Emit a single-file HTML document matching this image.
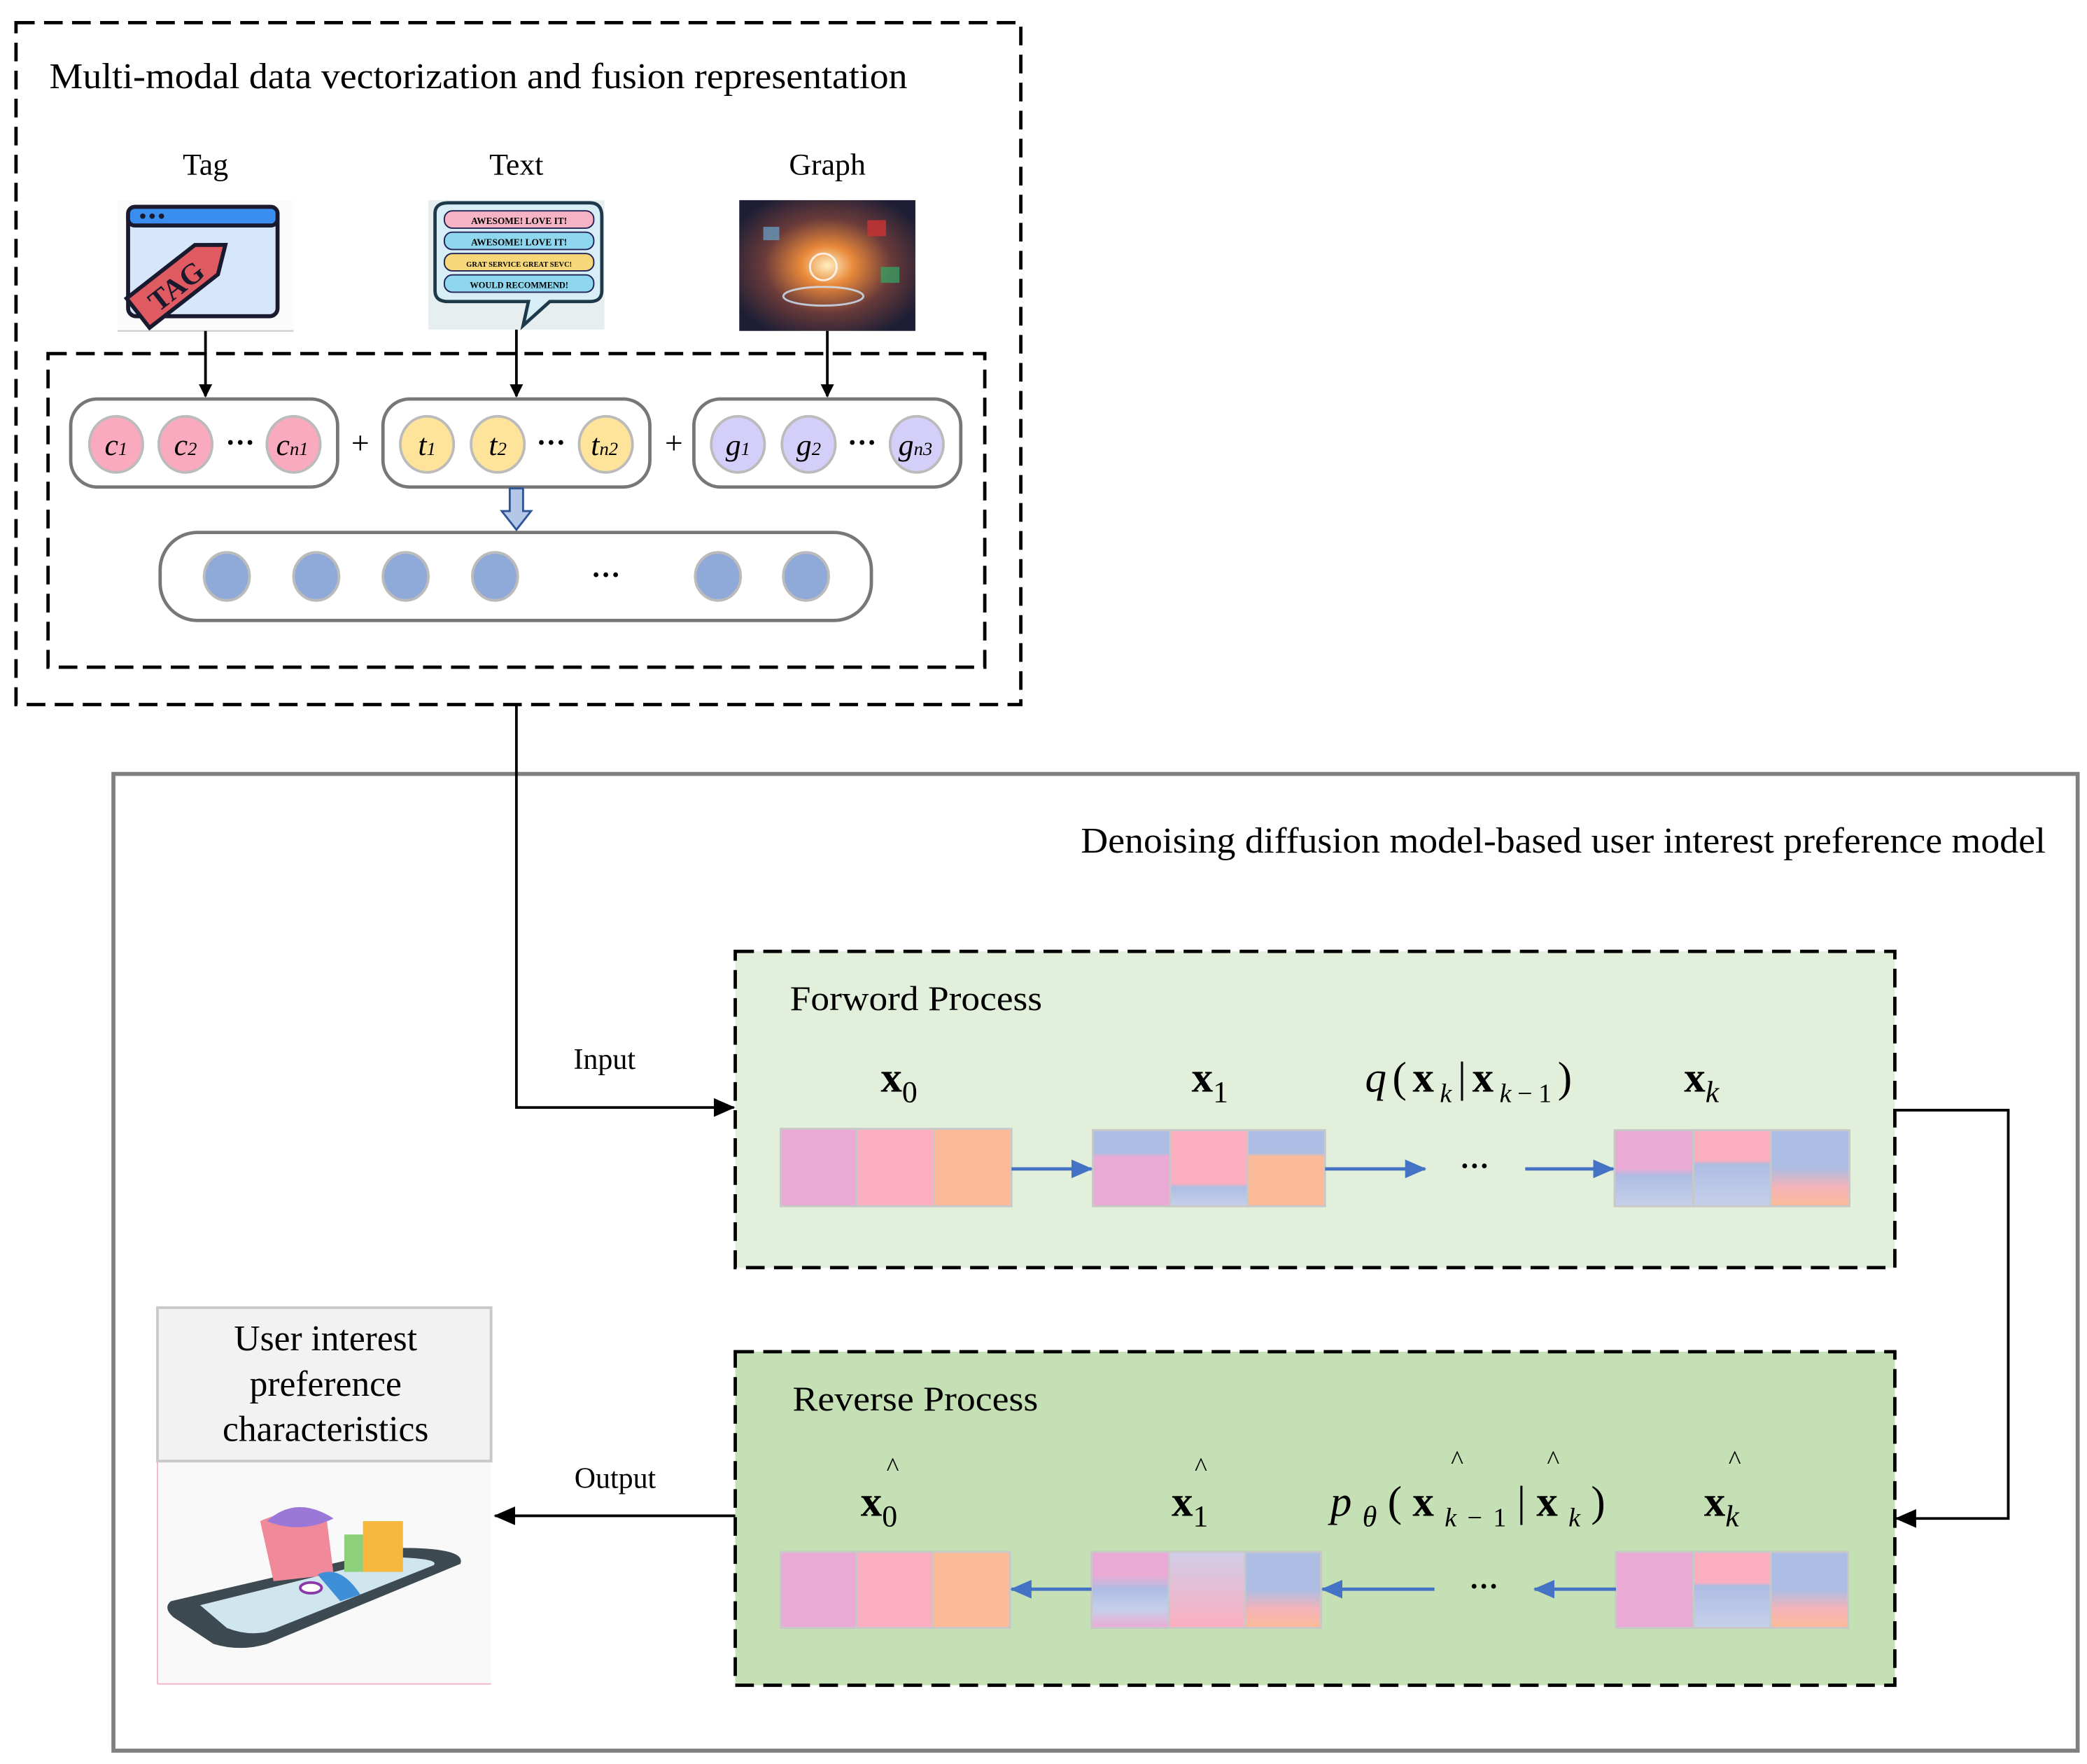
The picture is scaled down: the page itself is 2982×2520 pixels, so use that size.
<!DOCTYPE html>
<html><head><meta charset="utf-8"><style>
html,body{margin:0;padding:0;background:#fff;}
svg{display:block;}
text{font-family:"Liberation Serif",serif;fill:#000;}
</style></head><body>
<svg width="2982" height="2520" viewBox="0 0 1564 1322" preserveAspectRatio="none" xmlns="http://www.w3.org/2000/svg">
<defs>
<marker id="ab" markerWidth="10" markerHeight="10" refX="9" refY="5" orient="auto" markerUnits="userSpaceOnUse"><path d="M0,0 L10,5 L0,10 z" fill="#000"/></marker>
<marker id="abk" markerWidth="16" markerHeight="14" refX="15" refY="7" orient="auto" markerUnits="userSpaceOnUse"><path d="M0,0 L16,7 L0,14 z" fill="#000"/></marker>
<marker id="bl" markerWidth="16" markerHeight="14" refX="15" refY="7" orient="auto" markerUnits="userSpaceOnUse"><path d="M0,0 L16,7 L0,14 z" fill="#4472c4"/></marker>
<linearGradient id="n1" x1="0" y1="0" x2="0" y2="1"><stop offset="0" stop-color="#aebde3"/><stop offset="0.3" stop-color="#aebde3"/><stop offset="0.35" stop-color="#ebaad5"/><stop offset="1" stop-color="#ebaad5"/></linearGradient>
<linearGradient id="n2" x1="0" y1="0" x2="0" y2="1"><stop offset="0" stop-color="#fbaec0"/><stop offset="0.7" stop-color="#fbaec0"/><stop offset="0.75" stop-color="#aebde3"/><stop offset="1" stop-color="#c5d0ea"/></linearGradient>
<linearGradient id="n3" x1="0" y1="0" x2="0" y2="1"><stop offset="0" stop-color="#aebde3"/><stop offset="0.3" stop-color="#aebde3"/><stop offset="0.35" stop-color="#fcbb98"/><stop offset="1" stop-color="#fcbb98"/></linearGradient>
<linearGradient id="n4" x1="0" y1="0" x2="0" y2="1"><stop offset="0" stop-color="#aebde3"/><stop offset="0.5" stop-color="#aebde3"/><stop offset="0.75" stop-color="#f4b3b8"/><stop offset="1" stop-color="#fcbb98"/></linearGradient>
<linearGradient id="n5" x1="0" y1="0" x2="0" y2="1"><stop offset="0" stop-color="#fbaec0"/><stop offset="0.4" stop-color="#fbaec0"/><stop offset="0.45" stop-color="#aebde3"/><stop offset="1" stop-color="#c5d0ea"/></linearGradient>
<linearGradient id="n6" x1="0" y1="0" x2="0" y2="1"><stop offset="0" stop-color="#ebaad5"/><stop offset="0.5" stop-color="#ebaad5"/><stop offset="0.6" stop-color="#aebde3"/><stop offset="1" stop-color="#c5d0ea"/></linearGradient>
<linearGradient id="n7" x1="0" y1="0" x2="0" y2="1"><stop offset="0" stop-color="#ebaad5"/><stop offset="0.3" stop-color="#ebaad5"/><stop offset="0.5" stop-color="#aebde3"/><stop offset="0.75" stop-color="#c5d0ea"/><stop offset="1" stop-color="#ebaad5"/></linearGradient>
<linearGradient id="n8" x1="0" y1="0" x2="0" y2="1"><stop offset="0" stop-color="#d0cde8"/><stop offset="1" stop-color="#fbaec0"/></linearGradient>
<radialGradient id="gr" cx="0.5" cy="0.5" r="0.6"><stop offset="0" stop-color="#fff0c0"/><stop offset="0.25" stop-color="#e8883a"/><stop offset="0.6" stop-color="#6a3b3a"/><stop offset="1" stop-color="#1d1e35"/></radialGradient>
</defs>

<!-- Top dashed box -->
<rect x="12" y="17" width="753" height="511" fill="none" stroke="#000" stroke-width="2.5" stroke-dasharray="14,7"/>
<text x="37" y="66" font-size="27" textLength="643" lengthAdjust="spacingAndGlyphs">Multi-modal data vectorization and fusion representation</text>
<text x="154" y="131" font-size="23" text-anchor="middle">Tag</text>
<text x="387" y="131" font-size="23" text-anchor="middle">Text</text>
<text x="620" y="131" font-size="23" text-anchor="middle">Graph</text>

<!-- Tag image -->
<rect x="88" y="150" width="132" height="98" fill="#fbfbfb"/>
<line x1="88" y1="248" x2="220" y2="248" stroke="#ccc"/>
<rect x="96" y="155" width="112" height="82" rx="6" fill="#d6e6fb" stroke="#1a1a2e" stroke-width="3"/>
<rect x="96" y="155" width="112" height="14" rx="5" fill="#3a8ef0" stroke="#1a1a2e" stroke-width="3"/>
<circle cx="107" cy="162" r="2" fill="#1a1a2e"/><circle cx="114" cy="162" r="2" fill="#1a1a2e"/><circle cx="121" cy="162" r="2" fill="#1a1a2e"/>
<g transform="rotate(-38 135 210)"><path d="M95,196 L160,196 L178,210 L160,224 L95,224 z" fill="#e05a62" stroke="#1a1a2e" stroke-width="3"/><text x="130" y="219" font-family="Liberation Sans,sans-serif" font-size="22" font-weight="bold" text-anchor="middle" style="fill:#1a1a2e">TAG</text></g>

<!-- Text image -->
<rect x="321" y="150" width="132" height="97" fill="#e7eef0"/>
<path d="M326,160 Q326,152 336,152 L442,152 Q451,152 451,162 L451,218 Q451,226 442,226 L412,226 L392,244 L396,226 L336,226 Q326,226 326,218 z" fill="#d8eef6" stroke="#1e3a4a" stroke-width="2.5"/>
<rect x="333" y="158" width="112" height="13" rx="6" fill="#f6b3c6" stroke="#225" stroke-width="1"/>
<rect x="333" y="174" width="112" height="13" rx="6" fill="#8fd7ee" stroke="#225" stroke-width="1"/>
<rect x="333" y="190" width="112" height="13" rx="6" fill="#f6d77a" stroke="#225" stroke-width="1"/>
<rect x="333" y="206" width="112" height="13" rx="6" fill="#8fd7ee" stroke="#225" stroke-width="1"/>
<text x="389" y="168" font-family="Liberation Sans,sans-serif" font-size="7" font-weight="bold" text-anchor="middle">AWESOME! LOVE IT!</text>
<text x="389" y="184" font-family="Liberation Sans,sans-serif" font-size="7" font-weight="bold" text-anchor="middle">AWESOME! LOVE IT!</text>
<text x="389" y="200" font-family="Liberation Sans,sans-serif" font-size="5.5" font-weight="bold" text-anchor="middle">GRAT SERVICE GREAT SEVC!</text>
<text x="389" y="216" font-family="Liberation Sans,sans-serif" font-size="6.5" font-weight="bold" text-anchor="middle">WOULD RECOMMEND!</text>

<!-- Graph image -->
<rect x="554" y="150" width="132" height="98" fill="url(#gr)"/>
<circle cx="617" cy="200" r="10" fill="none" stroke="#fff" stroke-width="1.5" opacity="0.8"/>
<ellipse cx="617" cy="222" rx="30" ry="7" fill="none" stroke="#cfe8ff" stroke-width="1.5" opacity="0.8"/>
<rect x="650" y="165" width="14" height="12" fill="#c33" opacity="0.8"/><rect x="572" y="170" width="12" height="10" fill="#69b" opacity="0.8"/><rect x="660" y="200" width="14" height="12" fill="#3a6" opacity="0.7"/>

<!-- Inner dashed box -->
<rect x="36" y="265" width="702" height="235" fill="none" stroke="#000" stroke-width="2.5" stroke-dasharray="14,7"/>
<line x1="154" y1="248" x2="154" y2="297" stroke="#000" stroke-width="2" marker-end="url(#ab)"/>
<line x1="387" y1="247" x2="387" y2="297" stroke="#000" stroke-width="2" marker-end="url(#ab)"/>
<line x1="620" y1="248" x2="620" y2="297" stroke="#000" stroke-width="2" marker-end="url(#ab)"/>

<!-- pills -->
<g fill="#fff" stroke="#777" stroke-width="2.5">
<rect x="53" y="299" width="200" height="66" rx="20"/>
<rect x="287" y="299" width="200" height="66" rx="20"/>
<rect x="520" y="299" width="200" height="66" rx="20"/>
<rect x="120" y="399" width="533" height="66" rx="28"/>
</g>
<g stroke="#bbb" stroke-width="2">
<ellipse cx="87" cy="333" rx="20" ry="21" fill="#f9aabf"/>
<ellipse cx="139" cy="333" rx="20" ry="21" fill="#f9aabf"/>
<ellipse cx="220" cy="333" rx="20" ry="21" fill="#f9aabf"/>
<ellipse cx="320" cy="333" rx="20" ry="21" fill="#fde49a"/>
<ellipse cx="373" cy="333" rx="20" ry="21" fill="#fde49a"/>
<ellipse cx="454" cy="333" rx="20" ry="21" fill="#fde49a"/>
<ellipse cx="553" cy="333" rx="20" ry="21" fill="#d3cff8"/>
<ellipse cx="606" cy="333" rx="20" ry="21" fill="#d3cff8"/>
<ellipse cx="687" cy="333" rx="20" ry="21" fill="#d3cff8"/>
</g>
<g font-size="23" font-style="italic" text-anchor="middle">
<text x="87" y="341">c<tspan font-size="14">1</tspan></text>
<text x="139" y="341">c<tspan font-size="14">2</tspan></text>
<text x="219" y="341">c<tspan font-size="14">n1</tspan></text>
<text x="320" y="341">t<tspan font-size="14">1</tspan></text>
<text x="373" y="341">t<tspan font-size="14">2</tspan></text>
<text x="453" y="341">t<tspan font-size="14">n2</tspan></text>
<text x="553" y="341">g<tspan font-size="14">1</tspan></text>
<text x="606" y="341">g<tspan font-size="14">2</tspan></text>
<text x="686" y="341">g<tspan font-size="14">n3</tspan></text>
</g>
<g font-size="22" font-weight="bold" text-anchor="middle">
<text x="180" y="339">···</text><text x="413" y="339">···</text><text x="646" y="339">···</text><text x="454" y="438">···</text>
</g>
<text x="270" y="340" font-size="24" text-anchor="middle">+</text>
<text x="505" y="340" font-size="24" text-anchor="middle">+</text>
<path d="M382,366 L392,366 L392,383 L398,383 L387,397 L376,383 L382,383 z" fill="#b4c7e7" stroke="#2f5597" stroke-width="1.5"/>
<g fill="#8fa9d9" stroke="#bbb" stroke-width="2">
<ellipse cx="170" cy="432" rx="17" ry="18"/><ellipse cx="237" cy="432" rx="17" ry="18"/><ellipse cx="304" cy="432" rx="17" ry="18"/><ellipse cx="371" cy="432" rx="17" ry="18"/><ellipse cx="538" cy="432" rx="17" ry="18"/><ellipse cx="604" cy="432" rx="17" ry="18"/>
</g>

<!-- Big gray box -->
<rect x="85" y="580" width="1472" height="732" fill="none" stroke="#7f7f7f" stroke-width="3"/>
<text x="810" y="639" font-size="27" textLength="723" lengthAdjust="spacingAndGlyphs">Denoising diffusion model-based user interest preference model</text>

<!-- input connector -->
<polyline points="387,528 387,830 550,830" fill="none" stroke="#000" stroke-width="2" marker-end="url(#abk)"/>
<text x="453" y="801" font-size="22" text-anchor="middle">Input</text>

<!-- Forward box -->
<rect x="551" y="713" width="869" height="237" fill="#e2efda" stroke="#000" stroke-width="2.5" stroke-dasharray="14,7"/>
<text x="592" y="757" font-size="26" textLength="189" lengthAdjust="spacingAndGlyphs">Forword Process</text>
<g font-size="32">
<text x="660" y="818" font-weight="bold">x<tspan font-size="23" font-weight="normal" dy="8">0</tspan></text>
<text x="893" y="818" font-weight="bold">x<tspan font-size="23" font-weight="normal" dy="8">1</tspan></text>
<text x="1262" y="818" font-weight="bold">x<tspan font-size="23" font-weight="normal" font-style="italic" dy="8">k</tspan></text>
<text x="1023" y="818" textLength="155" lengthAdjust="spacing"><tspan font-style="italic">q</tspan>(<tspan font-weight="bold">x</tspan><tspan font-size="20" font-style="italic" dy="8">k</tspan><tspan dy="-8">|</tspan><tspan font-weight="bold">x</tspan><tspan font-size="20" dy="8"><tspan font-style="italic">k</tspan>−1</tspan><tspan dy="-8">)</tspan></text>
</g>
<g stroke="#c8c8c8" stroke-width="1.5">
<rect x="585" y="846" width="57" height="58" fill="#ebaad5"/><rect x="642" y="846" width="58" height="58" fill="#fbaec0"/><rect x="700" y="846" width="58" height="58" fill="#fcbb98"/>
<rect x="819" y="847" width="58" height="57" fill="url(#n1)"/><rect x="877" y="847" width="58" height="57" fill="url(#n2)"/><rect x="935" y="847" width="58" height="57" fill="url(#n3)"/>
<rect x="1210" y="847" width="59" height="57" fill="url(#n6)"/><rect x="1269" y="847" width="58" height="57" fill="url(#n5)"/><rect x="1327" y="847" width="59" height="57" fill="url(#n4)"/>
</g>
<g stroke="#4472c4" stroke-width="2.5">
<line x1="758" y1="876" x2="818" y2="876" marker-end="url(#bl)"/>
<line x1="993" y1="876" x2="1068" y2="876" marker-end="url(#bl)"/>
<line x1="1143" y1="876" x2="1209" y2="876" marker-end="url(#bl)"/>
</g>
<text x="1105" y="881" font-size="22" font-weight="bold" text-anchor="middle">···</text>

<!-- right connector -->
<polyline points="1420,832 1505,832 1505,1138 1421,1138" fill="none" stroke="#000" stroke-width="2" marker-end="url(#abk)"/>

<!-- Reverse box -->
<rect x="551" y="1013" width="869" height="250" fill="#c5e0b4" stroke="#000" stroke-width="2.5" stroke-dasharray="14,7"/>
<text x="594" y="1057" font-size="26" textLength="184" lengthAdjust="spacingAndGlyphs">Reverse Process</text>
<g font-size="32">
<text x="645" y="1136" font-weight="bold">x<tspan font-size="23" font-weight="normal" dy="8">0</tspan></text>
<text x="878" y="1136" font-weight="bold">x<tspan font-size="23" font-weight="normal" dy="8">1</tspan></text>
<text x="1277" y="1136" font-weight="bold">x<tspan font-size="23" font-weight="normal" font-style="italic" dy="8">k</tspan></text>
<text x="997" y="1136" textLength="206" lengthAdjust="spacing"><tspan font-style="italic">p</tspan><tspan font-size="22" font-style="italic" dy="8">θ</tspan><tspan dy="-8">(</tspan><tspan font-weight="bold">x</tspan><tspan font-size="20" dy="8"><tspan font-style="italic">k</tspan>−1</tspan><tspan dy="-8">|</tspan><tspan font-weight="bold">x</tspan><tspan font-size="20" font-style="italic" dy="8">k</tspan><tspan dy="-8">)</tspan></text>
</g>
<g font-size="20" text-anchor="middle">
<text x="669" y="1106">^</text><text x="900" y="1106">^</text><text x="1092" y="1101">^</text><text x="1164" y="1101">^</text><text x="1300" y="1101">^</text>
</g>
<g stroke="#c8c8c8" stroke-width="1.5">
<rect x="585" y="1163" width="57" height="57" fill="#ebaad5"/><rect x="642" y="1163" width="57" height="57" fill="#fbaec0"/><rect x="699" y="1163" width="58" height="57" fill="#fcbb98"/>
<rect x="818" y="1163" width="58" height="57" fill="url(#n7)"/><rect x="876" y="1163" width="57" height="57" fill="url(#n8)"/><rect x="933" y="1163" width="57" height="57" fill="url(#n4)"/>
<rect x="1211" y="1163" width="58" height="57" fill="#ebaad5"/><rect x="1269" y="1163" width="58" height="57" fill="url(#n5)"/><rect x="1327" y="1163" width="58" height="57" fill="url(#n4)"/>
</g>
<g stroke="#4472c4" stroke-width="2.5">
<line x1="818" y1="1191" x2="758" y2="1191" marker-end="url(#bl)"/>
<line x1="1075" y1="1191" x2="991" y2="1191" marker-end="url(#bl)"/>
<line x1="1211" y1="1191" x2="1150" y2="1191" marker-end="url(#bl)"/>
</g>
<text x="1112" y="1196" font-size="22" font-weight="bold" text-anchor="middle">···</text>

<!-- output connector -->
<line x1="551" y1="1136" x2="371" y2="1136" stroke="#000" stroke-width="2" marker-end="url(#abk)"/>
<text x="461" y="1115" font-size="22" text-anchor="middle">Output</text>

<!-- User interest box -->
<rect x="118" y="1095" width="250" height="167" fill="#f9f9f9"/>
<line x1="118" y1="1095" x2="118" y2="1262" stroke="#f4b8c8"/>
<line x1="118" y1="1262" x2="368" y2="1262" stroke="#f4b8c8"/>
<rect x="118" y="980" width="250" height="115" fill="#f2f2f2" stroke="#c8c8c8" stroke-width="2"/>
<g font-size="27" text-anchor="middle">
<text x="244" y="1012">User interest</text>
<text x="244" y="1046">preference</text>
<text x="244" y="1080">characteristics</text>
</g>
<!-- phone illustration -->
<path d="M128,1200 L300,1160 Q350,1160 345,1172 L200,1232 Q180,1238 160,1232 L130,1212 Q122,1205 128,1200 z" fill="#3e4a52"/>
<path d="M150,1203 L295,1167 Q330,1168 325,1173 L200,1223 Q185,1226 170,1220 z" fill="#cfe6ee"/>
<path d="M195,1140 Q220,1128 245,1140 L250,1180 L205,1185 z" fill="#f08a9a"/>
<path d="M200,1140 Q222,1120 250,1138 Q225,1150 200,1140 z" fill="#9b78d8"/>
<rect x="258" y="1150" width="24" height="28" fill="#8cd07a"/>
<rect x="272" y="1140" width="30" height="38" fill="#f8b840"/>
<ellipse cx="233" cy="1190" rx="8" ry="4" fill="#fff" stroke="#8a3aa8" stroke-width="2"/>
<path d="M238,1180 Q255,1172 270,1195 L255,1200 z" fill="#3e8fd8"/>
</svg>
</body></html>
